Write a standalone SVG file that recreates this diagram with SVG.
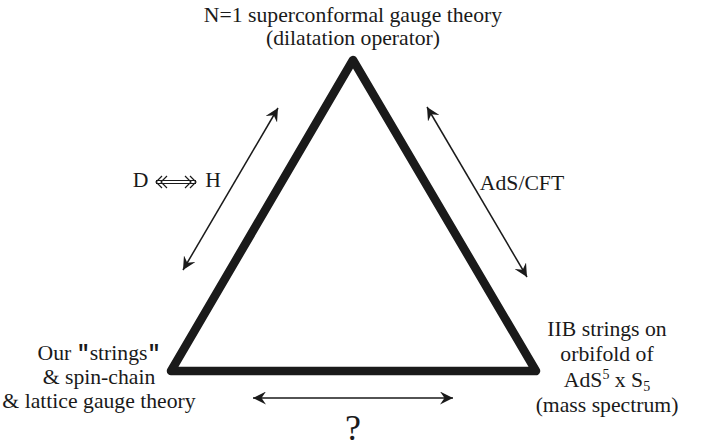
<svg xmlns="http://www.w3.org/2000/svg" width="712" height="448" viewBox="0 0 712 448">
<style>
text{font-family:"Liberation Serif","Times New Roman",serif;fill:#1a1a1a;font-size:21.7px;text-anchor:middle}
.q{font-family:"Liberation Mono",monospace;font-weight:bold}
.big{font-size:36px}
.sub{font-size:14px}
.conn{stroke:#1a1a1a;stroke-width:1.5;fill:none;marker-start:url(#ah);marker-end:url(#ah)}
</style>
<defs>
<marker id="ah" viewBox="-13 -6.5 14 13" markerWidth="14" markerHeight="13" refX="0" refY="0" orient="auto-start-reverse" markerUnits="userSpaceOnUse">
<path d="M0,0 L-13,-6.5 L-8.5,0 L-13,6.5 z" fill="#1a1a1a"/>
</marker>
</defs>
<rect width="712" height="448" fill="#fff"/>
<g id="triangle">
<path d="M353,60 L536,371 L171,371 Z" fill="none" stroke="#1a1a1a" stroke-width="8.5" stroke-linejoin="round"/>
</g>
<g id="node-top">
<text x="353" y="22">N=1 superconformal gauge theory</text>
<text x="353" y="45">(dilatation operator)</text>
</g>
<g id="node-left">
<text x="99" y="360">Our <tspan class="q">"</tspan>strings<tspan class="q">"</tspan></text>
<text x="99" y="384">&amp; spin-chain</text>
<text x="99" y="408">&amp; lattice gauge theory</text>
</g>
<g id="node-right">
<text x="607" y="336">IIB strings on</text>
<text x="607" y="361">orbifold of</text>
<text x="607" y="387">AdS<tspan dy="-8" class="sub">5</tspan><tspan dy="8"> x S</tspan><tspan dy="4" class="sub">5</tspan></text>
<text x="607" y="412">(mass spectrum)</text>
</g>
<g id="connectors">
<line class="conn" x1="278" y1="108" x2="183" y2="270"/>
<line class="conn" x1="427" y1="107" x2="527" y2="277"/>
<line class="conn" x1="253" y1="398" x2="453" y2="398"/>
</g>
<g id="labels">
<text x="140.5" y="187">D</text>
<text x="213" y="187">H</text>
<g stroke="#1a1a1a" stroke-width="1.2" fill="none">
<line x1="156" y1="180.5" x2="196" y2="180.5"/>
<line x1="156" y1="183.5" x2="196" y2="183.5"/>
<path d="M162,176 L156,182 L162,188 M167,176 L161,182 L167,188"/>
<path d="M190,176 L196,182 L190,188 M185,176 L191,182 L185,188"/>
</g>
<text x="522" y="190">AdS/CFT</text>
<text x="353" y="440" class="big">?</text>
</g>
</svg>
